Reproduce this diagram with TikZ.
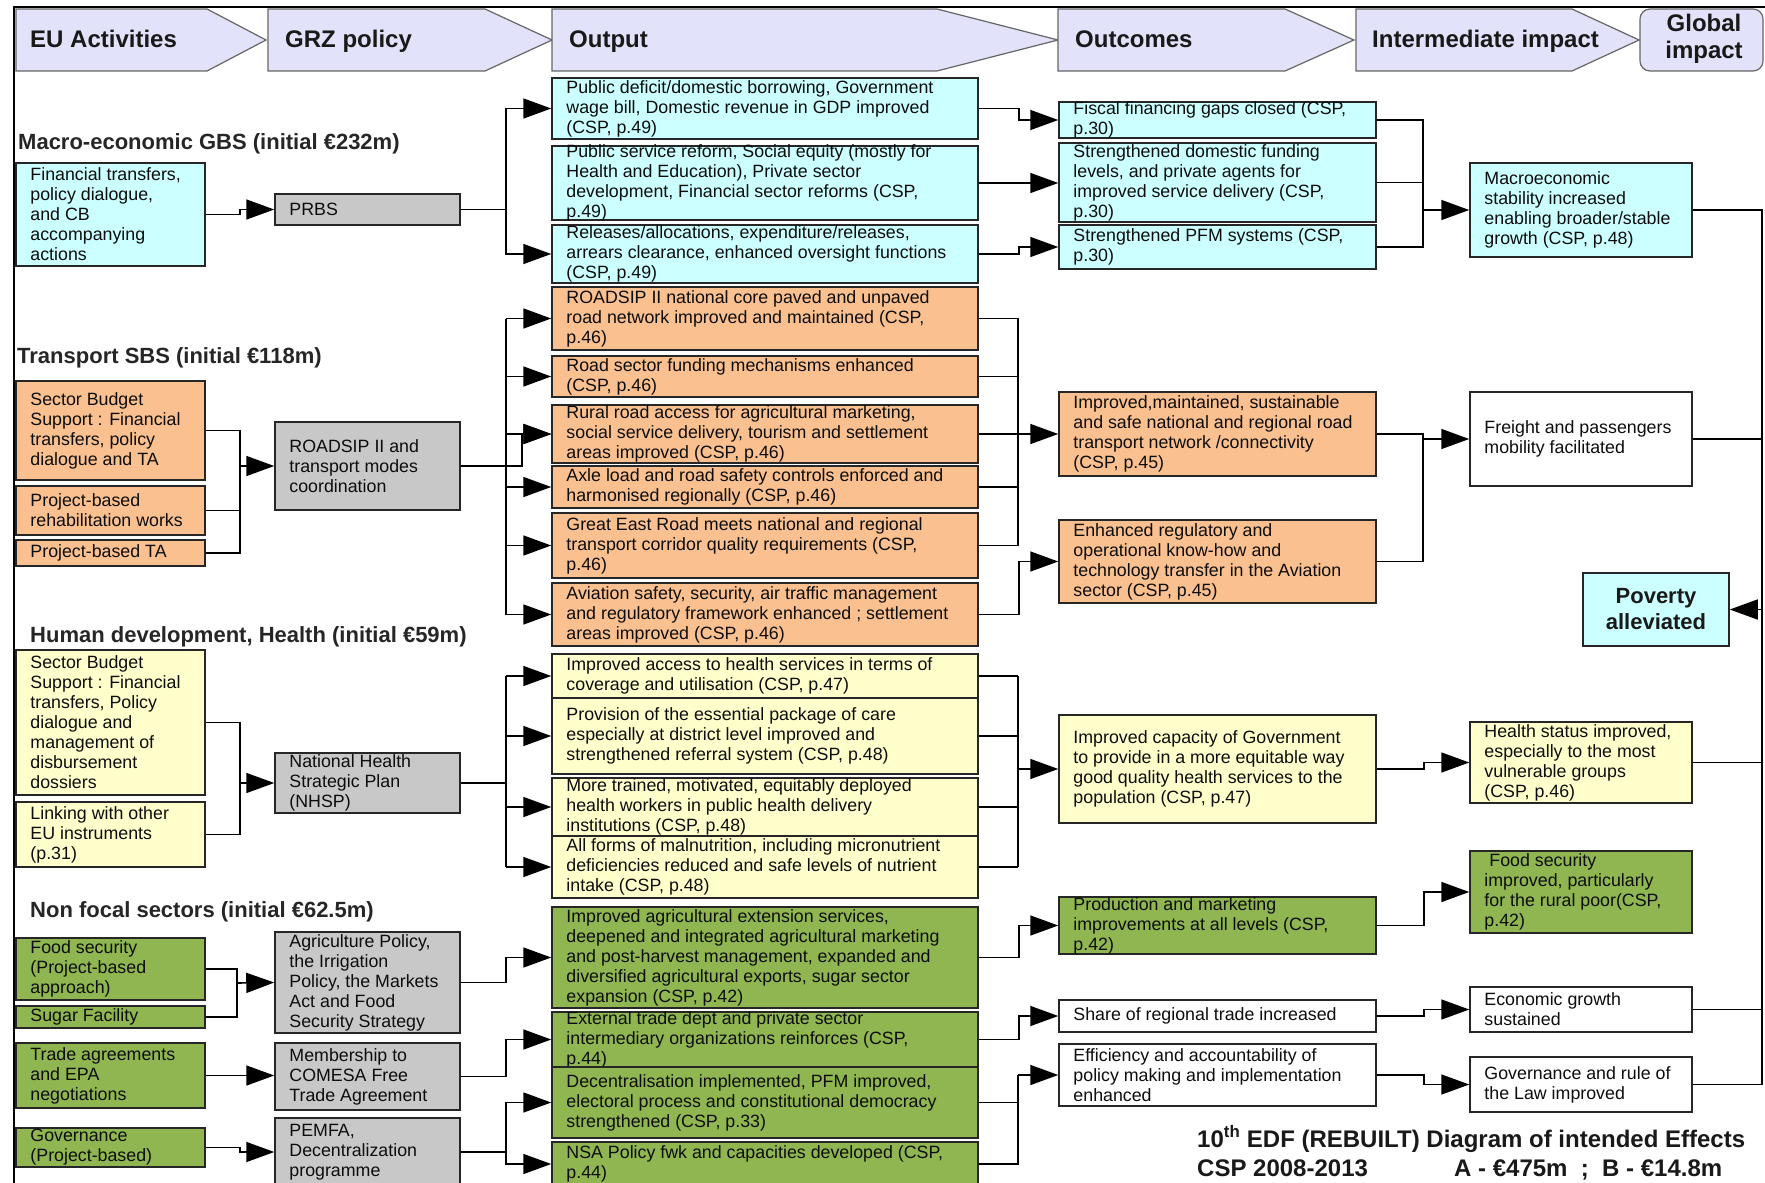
\documentclass[tikz,border=0pt]{standalone}
\usepackage{fontspec}
\setmainfont{Liberation Sans}
\usetikzlibrary{arrows.meta}
\definecolor{cy}{RGB}{204,255,255}
\definecolor{org}{RGB}{250,192,143}
\definecolor{yel}{RGB}{255,255,204}
\definecolor{grn}{RGB}{143,182,80}
\definecolor{gry}{RGB}{200,200,200}
\definecolor{lav}{RGB}{226,226,250}
\tikzset{
 bx/.style={draw=black!85, line width=1.5pt, inner sep=0pt, rectangle},
 txt/.style={font=\fontsize{17.8}{20}\selectfont, align=left, inner sep=0pt, text=black!95},
 ln/.style={draw=black, line width=1.6pt},
 arr/.style={ln, -{Triangle[length=28pt,width=20pt]}},
 hdr/.style={fill=lav, draw=black!60, line width=1.2pt},
 hdrtxt/.style={font=\fontsize{24}{27}\selectfont\bfseries, inner sep=0pt, text=black!90},
 ttl/.style={font=\fontsize{22}{26}\selectfont\bfseries, inner sep=0pt, anchor=base west, text=black!85},
}
% name, x1, y1, x2, y2, fill, text
\newcommand\effbox[7]{%
 \pgfmathsetmacro\bxw{#4-#2}\pgfmathsetmacro\bxh{#5-#3}%
 \pgfmathsetmacro\bxcx{(#2+#4)/2}\pgfmathsetmacro\bxcy{(#3+#5)/2}%
 \node[bx, fill=#6, minimum width=\bxw pt, minimum height=\bxh pt] (#1) at (\bxcx,\bxcy) {};
 \node[txt, anchor=west] (#1t) at ([xshift=15pt]#1.west) {#7};}
\begin{document}
\begin{tikzpicture}[x=1pt,y=-1pt]
\useasboundingbox (0,0) rectangle (1765,1183);
\fill[white] (0,0) rectangle (1765,1183);
\clip (0,0) rectangle (1765,1183);
% frame
\draw[ln] (14,1190) -- (14,7) -- (1770,7);
% headers
\draw[hdr] (16,9) -- (207,9) -- (266,40) -- (207,71) -- (16,71) -- cycle;
\draw[hdr] (268,9) -- (485,9) -- (552,40) -- (485,71) -- (268,71) -- cycle;
\draw[hdr] (552,9) -- (937,9) -- (1058,40) -- (937,71) -- (552,71) -- cycle;
\draw[hdr] (1058,9) -- (1285,9) -- (1354,40) -- (1285,71) -- (1058,71) -- cycle;
\draw[hdr] (1356,9) -- (1572,9) -- (1639,40) -- (1572,71) -- (1356,71) -- cycle;
\draw[hdr, rounded corners=10pt] (1640,9) rectangle (1763,71);
\node[hdrtxt, anchor=base west] (hEU) at (30,47) {EU Activities};
\node[hdrtxt, anchor=base west] (hGRZ) at (285,47) {GRZ policy};
\node[hdrtxt, anchor=base west] (hOut) at (569,47) {Output};
\node[hdrtxt, anchor=base west] (hOutc) at (1075,47) {Outcomes};
\node[hdrtxt, anchor=base west] (hInt) at (1372,47) {Intermediate impact};
\node[hdrtxt, align=center] (hGlob) at (1704,39) {Global\\impact};
% section titles
\node[ttl] (t1) at (18,149) {Macro-economic GBS (initial €232m)};
\node[ttl] (t2) at (17,363) {Transport SBS (initial €118m)};
\node[ttl] (t3) at (30,642) {Human development, Health (initial €59m)};
\node[ttl] (t4) at (30,917) {Non focal sectors (initial €62.5m)};
% EU activities
\effbox{eu1}{16}{163}{205}{266}{cy}{Financial transfers,\\policy dialogue,\\and CB\\accompanying\\actions}
\effbox{eu2}{16}{381}{205}{480}{org}{Sector Budget\\Support : Financial\\transfers, policy\\dialogue and TA}
\effbox{eu3}{16}{486}{205}{535}{org}{Project-based\\rehabilitation works}
\effbox{eu4}{16}{540}{205}{566}{org}{Project-based TA}
\effbox{eu5}{16}{650}{205}{795}{yel}{Sector Budget\\Support : Financial\\transfers, Policy\\dialogue and\\management of\\disbursement\\dossiers}
\effbox{eu6}{16}{802}{205}{867}{yel}{Linking with other\\EU instruments\\(p.31)}
\effbox{eu7}{16}{938}{205}{1000}{grn}{Food security\\(Project-based\\approach)}
\effbox{eu8}{16}{1006}{205}{1028}{grn}{Sugar Facility}
\effbox{eu9}{16}{1043}{205}{1108}{grn}{Trade agreements\\and EPA\\negotiations}
\effbox{eu10}{16}{1128}{205}{1167}{grn}{Governance\\(Project-based)}
% GRZ policy
\effbox{g1}{275}{194}{460}{225}{gry}{PRBS}
\effbox{g2}{275}{422}{460}{510}{gry}{ROADSIP II and\\transport modes\\coordination}
\effbox{g3}{275}{753}{460}{813}{gry}{National Health\\Strategic Plan\\(NHSP)}
\effbox{g4}{275}{932}{460}{1033}{gry}{Agriculture Policy,\\the Irrigation\\Policy, the Markets\\Act and Food\\Security Strategy}
\effbox{g5}{275}{1043}{460}{1110}{gry}{Membership to\\COMESA Free\\Trade Agreement}
\effbox{g6}{275}{1118}{460}{1186}{gry}{PEMFA,\\Decentralization\\programme}
% Output
\effbox{o1}{552}{78}{978}{139}{cy}{Public deficit/domestic borrowing, Government\\wage bill, Domestic revenue in GDP improved\\(CSP, p.49)}
\effbox{o2}{552}{146}{978}{220}{cy}{Public service reform, Social equity (mostly for\\Health and Education), Private sector\\development, Financial sector reforms (CSP,\\p.49)}
\effbox{o3}{552}{225}{978}{283}{cy}{Releases/allocations, expenditure/releases,\\arrears clearance, enhanced oversight functions\\(CSP, p.49)}
\effbox{o4}{552}{287}{978}{350}{org}{ROADSIP II national core paved and unpaved\\road network improved and maintained (CSP,\\p.46)}
\effbox{o5}{552}{356}{978}{397}{org}{Road sector funding mechanisms enhanced\\(CSP, p.46)}
\effbox{o6}{552}{405}{978}{463}{org}{Rural road access for agricultural marketing,\\social service delivery, tourism and settlement\\areas improved (CSP, p.46)}
\effbox{o7}{552}{466}{978}{508}{org}{Axle load and road safety controls enforced and\\harmonised regionally (CSP, p.46)}
\effbox{o8}{552}{513}{978}{578}{org}{Great East Road meets national and regional\\transport corridor quality requirements (CSP,\\p.46)}
\effbox{o9}{552}{583}{978}{646}{org}{Aviation safety, security, air traffic management\\and regulatory framework enhanced ; settlement\\areas improved (CSP, p.46)}
\effbox{o10}{552}{654}{978}{698}{yel}{Improved access to health services in terms of\\coverage and utilisation (CSP, p.47)}
\effbox{o11}{552}{698}{978}{774}{yel}{Provision of the essential package of care\\especially at district level improved and\\strengthened referral system (CSP, p.48)}
\effbox{o12}{552}{778}{978}{836}{yel}{More trained, motivated, equitably deployed\\health workers in public health delivery\\institutions (CSP, p.48)}
\effbox{o13}{552}{836}{978}{898}{yel}{All forms of malnutrition, including micronutrient\\deficiencies reduced and safe levels of nutrient\\intake (CSP, p.48)}
\effbox{o14}{552}{907}{978}{1008}{grn}{Improved agricultural extension services,\\deepened and integrated agricultural marketing\\and post-harvest management, expanded and\\diversified agricultural exports, sugar sector\\expansion (CSP, p.42)}
\effbox{o15}{552}{1012}{978}{1067}{grn}{External trade dept and private sector\\intermediary organizations reinforces (CSP,\\p.44)}
\effbox{o16}{552}{1067}{978}{1138}{grn}{Decentralisation implemented, PFM improved,\\electoral process and constitutional democracy\\strengthened (CSP, p.33)}
\effbox{o17}{552}{1142}{978}{1186}{grn}{NSA Policy fwk and capacities developed (CSP,\\p.44)}
% Outcomes
\effbox{c1}{1059}{102}{1376}{138}{cy}{Fiscal financing gaps closed (CSP,\\p.30)}
\effbox{c2}{1059}{143}{1376}{222}{cy}{Strengthened domestic funding\\levels, and private agents for\\improved service delivery (CSP,\\p.30)}
\effbox{c3}{1059}{225}{1376}{269}{cy}{Strengthened PFM systems (CSP,\\p.30)}
\effbox{c4}{1059}{392}{1376}{476}{org}{Improved,maintained, sustainable\\and safe national and regional road\\transport network /connectivity\\(CSP, p.45)}
\effbox{c5}{1059}{520}{1376}{603}{org}{Enhanced regulatory and\\operational know-how and\\technology transfer in the Aviation\\sector (CSP, p.45)}
\effbox{c6}{1059}{715}{1376}{823}{yel}{Improved capacity of Government\\to provide in a more equitable way\\good quality health services to the\\population (CSP, p.47)}
\effbox{c7}{1059}{897}{1376}{954}{grn}{Production and marketing\\improvements at all levels (CSP,\\p.42)}
\effbox{c8}{1059}{1000}{1376}{1032}{white}{Share of regional trade increased}
\effbox{c9}{1059}{1044}{1376}{1106}{white}{Efficiency and accountability of\\policy making and implementation\\enhanced}
% Intermediate impact
\effbox{i1}{1470}{163}{1692}{257}{cy}{Macroeconomic\\stability increased\\enabling broader/stable\\growth (CSP, p.48)}
\effbox{i2}{1470}{392}{1692}{486}{white}{Freight and passengers\\mobility facilitated}
\effbox{i3}{1470}{722}{1692}{803}{yel}{Health status improved,\\especially to the most\\vulnerable groups\\(CSP, p.46)}
\effbox{i4}{1470}{851}{1692}{933}{grn}{\ Food security\\improved, particularly\\for the rural poor(CSP,\\p.42)}
\effbox{i5}{1470}{987}{1692}{1032}{white}{Economic growth\\sustained}
\effbox{i6}{1470}{1057}{1692}{1112}{white}{Governance and rule of\\the Law improved}
% Global impact
\node[bx, fill=cy, minimum width=146pt, minimum height=73pt] (pov) at (1656,609.5) {};
\node[font=\fontsize{22}{26}\selectfont\bfseries, align=center, inner sep=0pt, text=black!90] (povt) at (pov.center) {Poverty\\alleviated};
% ---- connectors: macro
\draw[arr] (eu1.east) -- ++(34,0) |- (g1.west);
\draw[arr] (g1.east) -- ++(45,0) |- (o1.west);
\draw[arr] (g1.east) -- ++(45,0) |- (o3.west);
\draw[arr] (o1.east) -- ++(40,0) |- (c1.west);
\draw[arr] (o2.east) -- (o2.east -| c2.west);
\draw[arr] (o3.east) -- ++(40,0) |- (c3.west);
\coordinate (mb) at (1423,210);
\draw[ln] (c1.east) -| (mb);
\draw[ln] (c2.east) -| (mb);
\draw[ln] (c3.east) -| (mb);
\draw[arr] (mb) -- (i1.west);
% right bus
\coordinate (rx) at (1762,0);
\draw[ln] (i1.east) -- (i1.east -| rx) -- (i6.east -| rx) -- (i6.east);
\draw[ln] (i2.east) -- (i2.east -| rx);
\draw[ln] (i3.east) -- (i3.east -| rx);
\draw[ln] (i5.east) -- (i5.east -| rx);
\draw[arr] (pov.east -| rx) -- (pov.east);
% ---- transport
\coordinate (tb1) at (240,466);
\draw[ln] (eu2.east) -| (tb1);
\draw[ln] (eu3.east) -| (tb1);
\draw[ln] (eu4.east) -| (tb1);
\draw[arr] (tb1) -- (g2.west);
\coordinate (tbx) at (506,0);
\draw[ln] (o4.west -| tbx) -- (o9.west -| tbx);
\foreach \n in {4,5,6,7,8,9} \draw[arr] (o\n.west -| tbx) -- (o\n.west);
\draw[arr] (g2.east) -- ++(61,0) |- (o6.west);
\coordinate (ox) at (1018,0);
\draw[ln] (o4.east) -- (o4.east -| ox) -- (o8.east -| ox);
\foreach \n in {5,6,7,8} \draw[ln] (o\n.east) -- (o\n.east -| ox);
\draw[arr] (c4.west -| ox) -- (c4.west);
\draw[arr] (o9.east) -- ++(40,0) |- (c5.west);
\coordinate (fb) at (1423,439);
\draw[ln] (c4.east) -| (fb);
\draw[ln] (c5.east) -| (fb);
\draw[arr] (fb) -- (i2.west);
% ---- health
\coordinate (hb1) at (240,783);
\draw[ln] (eu5.east) -| (hb1);
\draw[ln] (eu6.east) -| (hb1);
\draw[arr] (hb1) -- (g3.west);
\draw[ln] (g3.east) -- (g3.east -| tbx);
\draw[ln] (o10.west -| tbx) -- (o13.west -| tbx);
\foreach \n in {10,11,12,13} \draw[arr] (o\n.west -| tbx) -- (o\n.west);
\draw[ln] (o10.east -| ox) -- (o13.east -| ox);
\foreach \n in {10,11,12,13} \draw[ln] (o\n.east) -- (o\n.east -| ox);
\draw[arr] (c6.west -| ox) -- (c6.west);
\draw[arr] (c6.east) -- ++(47,0) |- (i3.west);
% ---- non focal
\coordinate (nb1) at (237,983);
\draw[ln] (eu7.east) -| (nb1);
\draw[ln] (eu8.east) -| (nb1);
\draw[arr] (nb1) -- (g4.west);
\draw[arr] (eu9.east) -- (eu9.east -| g5.west);
\draw[arr] (eu10.east) -- ++(34,0) |- (g6.west);
\draw[arr] (g4.east) -- ++(45,0) |- (o14.west);
\draw[arr] (g5.east) -- ++(45,0) |- (o15.west);
\draw[arr] (g6.east) -- ++(45,0) |- (o16.west);
\draw[arr] (g6.east) -- ++(45,0) |- (o17.west);
\draw[arr] (o14.east) -- ++(40,0) |- (c7.west);
\draw[arr] (o15.east) -- ++(40,0) |- (c8.west);
\coordinate (eb) at (1018,1075);
\draw[ln] (o16.east) -| (eb);
\draw[ln] (o17.east) -| (eb);
\draw[arr] (eb) -- (c9.west);
\draw[arr] (c7.east) -- ++(47,0) |- (i4.west);
\draw[arr] (c8.east) -- ++(47,0) |- (i5.west);
\draw[arr] (c9.east) -- ++(47,0) |- (i6.west);
% footer
\node[hdrtxt, anchor=base west] (f1) at (1197,1147) {10\textsuperscript{th} EDF (REBUILT) Diagram of intended Effects};
\node[hdrtxt, anchor=base west] (f2) at (1197,1176) {CSP 2008-2013};
\node[hdrtxt, anchor=base west] (f3) at (1454,1176) {A - €475m~~;~~B - €14.8m};
\end{tikzpicture}
\end{document}
